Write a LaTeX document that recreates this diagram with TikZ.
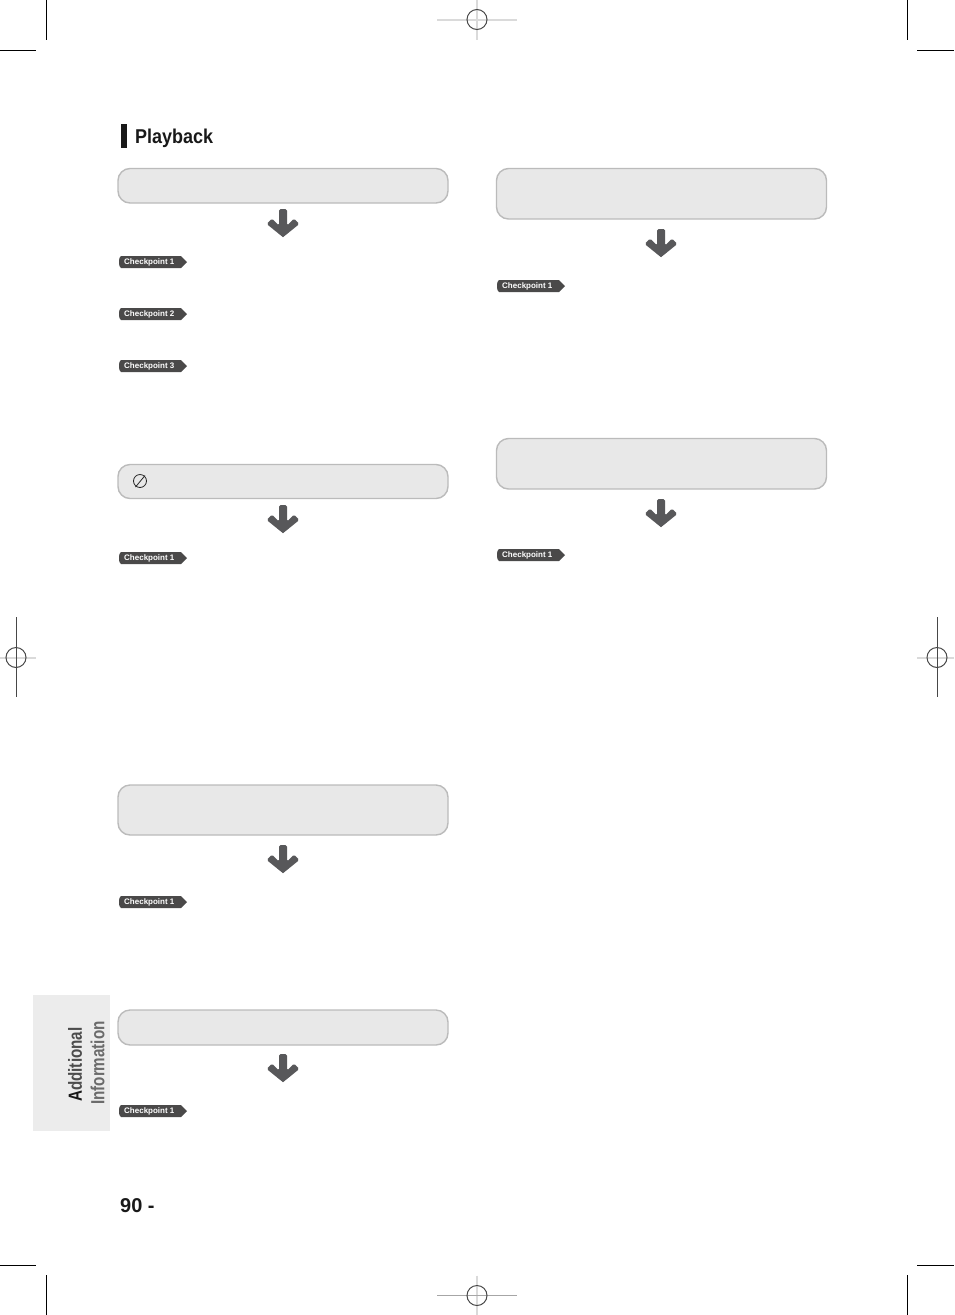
\documentclass[tikz,border=0pt]{standalone}
\usepackage{fontspec}
\setmainfont{Liberation Sans}
\newfontfamily\narrowfont[FakeStretch=0.9]{Liberation Sans}
\newfontfamily\sidefont[FakeStretch=0.8]{Liberation Sans}
\definecolor{boxfill}{HTML}{E8E8E8}
\definecolor{boxline}{HTML}{BBBBBB}
\definecolor{tagfill}{HTML}{4A4949}
\definecolor{arrowfill}{HTML}{58585A}
\definecolor{sidefill}{HTML}{ECECEC}
\definecolor{regline}{HTML}{DADADA}
\tikzset{
  stepbox/.style={draw=boxline,fill=boxfill,line width=1.4pt,rounded corners=12pt},
  cropline/.style={line width=1pt,black},
  regdark/.style={line width=1pt,black!72},
  reglight/.style={line width=2pt,regline},
  regmid/.style={line width=1pt,black!35},
  downarrow/.pic={
    \fill[arrowfill,rounded corners=1.5pt] (-4,0) -- (4,0) -- (4,16.5) -- (11,9.5) -- (16.3,15) [sharp corners] -- (0,28.2) [rounded corners=1.5pt] -- (-16.3,15) -- (-11,9.5) -- (-4,16.5) -- cycle;
  },
  checktag/.pic={
    \fill[tagfill] (2,-6) -- (62,-6) -- (68,0) -- (62,6) -- (2,6) arc (90:270:2 and 6) -- cycle;
    \node[text=white,font=\bfseries\fontsize{8}{8}\selectfont,anchor=west,inner sep=0pt] at (5,0.3) {Checkpoint #1};
  },
  regmark/.pic={
    \draw[reglight] (-40,0) -- (40,0);
    \draw[reglight] (0,-20) -- (0,20);
    \draw[regdark] (0,0) circle (10);
  },
  regmarklow/.pic={
    \draw[reglight] (0,-20) -- (0,20);
    \draw[regmid] (-40,0) -- (40,0);
    \draw[regdark] (0,0) circle (10);
  },
}
\begin{document}
\begin{tikzpicture}[x=1pt,y=-1pt]
   \useasboundingbox (0,0) rectangle (954,1315);

   % crop marks
   \draw[cropline] (46,0) -- (46,40);
   \draw[cropline] (0,50) -- (36,50);
   \draw[cropline] (907,0) -- (907,40);
   \draw[cropline] (917,50) -- (954,50);
   \draw[cropline] (46,1275) -- (46,1315);
   \draw[cropline] (0,1265) -- (36,1265);
   \draw[cropline] (907,1275) -- (907,1315);
   \draw[cropline] (917,1265) -- (954,1265);

   % registration marks
   \pic at (477,19.5) {regmark};
   \pic at (477,1295.5) {regmarklow};
   \draw[reglight] (0,657.5) -- (36,657.5);
   \draw[regdark] (16,617) -- (16,697);
   \draw[regdark] (16,657.5) circle (10);
   \draw[reglight] (917,657.5) -- (954,657.5);
   \draw[regdark] (937,617) -- (937,697);
   \draw[regdark] (937,657.5) circle (10);

   % heading
   \fill[black!90] (121,124) rectangle (127,148);
   \node[anchor=west,inner sep=0pt,font=\narrowfont\bfseries\fontsize{20}{20}\selectfont,text=black!90] (playback) at (135,138) {Playback};

   % left column
   \draw[stepbox] (118,168.5) rectangle (448,203);
   \pic at (283,209) {downarrow};
   \pic at (119,262) {checktag=1};
   \pic at (119,314) {checktag=2};
   \pic at (119,366) {checktag=3};

   \draw[stepbox] (118,464.5) rectangle (448,498.5);
   \draw[line width=.8pt,black!85] (140,481) circle (6.5);
   \draw[line width=.8pt,black!85] (135.5,487) -- (145,475.5);
   \pic at (283,505) {downarrow};
   \pic at (119,558) {checktag=1};

   \draw[stepbox] (118,785) rectangle (448,835);
   \pic at (283,845) {downarrow};
   \pic at (119,902) {checktag=1};

   \draw[stepbox] (118,1010) rectangle (448,1045);
   \pic at (283,1054) {downarrow};
   \pic at (119,1111) {checktag=1};

   % right column
   \draw[stepbox] (496.5,168.5) rectangle (826.5,219);
   \pic at (661,229) {downarrow};
   \pic at (497,286) {checktag=1};

   \draw[stepbox] (496.5,438.5) rectangle (826.5,489);
   \pic at (661,499) {downarrow};
   \pic at (497,555) {checktag=1};

   % side tab
   \fill[sidefill] (33,995) rectangle (110,1131);
   \node[rotate=90,anchor=west,inner sep=0pt,font=\sidefont\bfseries\fontsize{19}{19}\selectfont,text=black!70] (additional) at (75,1102) {{\color{black!90}A}dditional};
   \node[rotate=90,anchor=west,inner sep=0pt,font=\sidefont\bfseries\fontsize{19}{19}\selectfont,text=black!58] (information) at (97.5,1105) {Information};

   % page number
   \node[anchor=west,inner sep=0pt,font=\bfseries\fontsize{20}{20}\selectfont,text=black!90] (pagenum) at (120,1205.5) {90 -};
\end{tikzpicture}
\end{document}
